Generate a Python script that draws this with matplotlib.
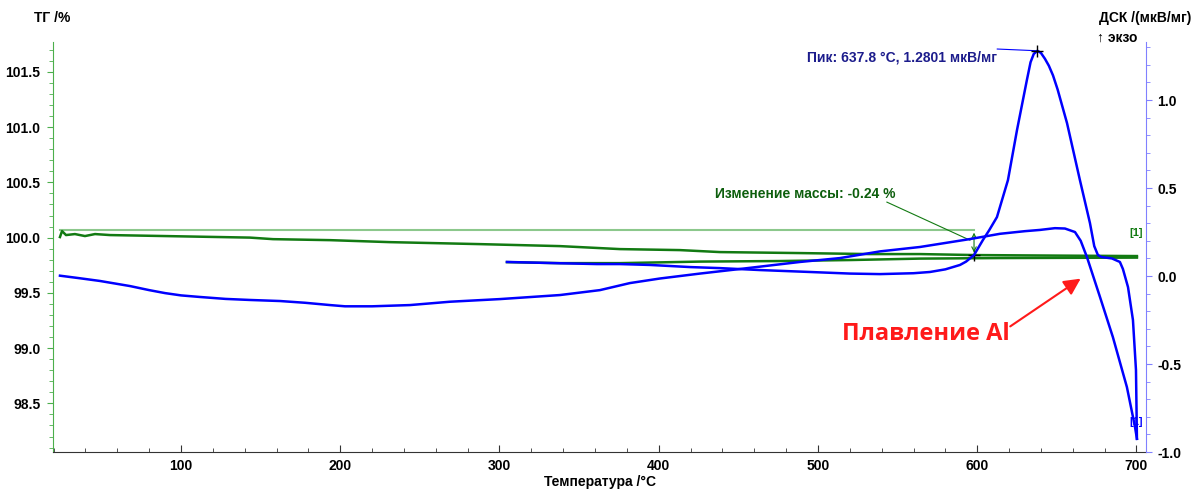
import matplotlib
matplotlib.use("Agg")
import matplotlib.pyplot as plt
from matplotlib.ticker import MultipleLocator, FormatStrFormatter

plt.rcParams['font.family'] = ['Liberation Sans', 'DejaVu Sans']
plt.rcParams['axes.unicode_minus'] = False

# ДСК, нагрев (T in C, DSC in мкВ/мг)
heat_t = [24.0, 36.0, 49.1, 68.0, 80.0, 90.0, 100.0, 111.9, 128.0, 143.3, 162.2, 178.0,
          193.6, 203.0, 220.0, 243.8, 268.9, 300.3, 338.0, 363.1, 381.9, 400.8, 425.9,
          451.0, 488.7, 513.8, 538.9, 564.0, 595.4, 614.3, 630.0, 639.4, 648.8, 655.1,
          661.4, 665.0, 668.9, 677.1, 685.2, 694.0, 699.1, 700.3]
heat_dsc = [0.002, -0.012, -0.028, -0.057, -0.080, -0.097, -0.110, -0.119, -0.130,
            -0.136, -0.142, -0.152, -0.165, -0.172, -0.172, -0.165, -0.146, -0.131,
            -0.108, -0.080, -0.040, -0.014, 0.014, 0.040, 0.080, 0.102, 0.140, 0.165,
            0.210, 0.240, 0.255, 0.262, 0.272, 0.270, 0.250, 0.200, 0.108, -0.119,
            -0.347, -0.631, -0.858, -0.925]

# ДСК, охлаждение (from 700 down)
cool_t = [700.3, 699.7, 697.8, 694.7, 691.5, 689.6, 684.6, 678.0, 675.8, 673.5, 670.8,
          664.5, 656.4, 650.5, 647.6, 645.0, 642.5, 640.0, 637.8, 635.5, 633.5, 631.2,
          625.0, 619.3, 612.4, 607.5, 603.6, 598.0, 593.0, 589.2, 580.0, 570.3, 560.0,
          538.9, 520.1, 495.0, 463.6, 438.5, 419.6, 394.5, 375.7, 361.2, 331.7, 304.7]
cool_dsc = [-0.925, -0.534, -0.25, -0.063, 0.040, 0.080, 0.100, 0.108, 0.119, 0.170,
            0.301, 0.545, 0.869, 1.060, 1.140, 1.195, 1.235, 1.268, 1.2801, 1.262,
            1.215, 1.114, 0.830, 0.545, 0.335, 0.260, 0.205, 0.119, 0.082, 0.063, 0.038,
            0.023, 0.016, 0.011, 0.014, 0.023, 0.034, 0.045, 0.051, 0.063, 0.068, 0.068,
            0.074, 0.080]

# ТГ, нагрев (%)
tg_heat_t = [24.0, 25.3, 27.8, 33.4, 39.7, 46.0, 55.4, 90.0, 143.3, 157.8, 193.6,
             231.2, 287.8, 338.0, 375.7, 413.3, 438.5, 488.7, 532.7, 564.0, 598.6,
             652.0, 700.3]
tg_heat = [100.005, 100.059, 100.023, 100.032, 100.014, 100.032, 100.023, 100.014,
           100.0, 99.986, 99.977, 99.959, 99.941, 99.923, 99.896, 99.887, 99.869,
           99.860, 99.851, 99.851, 99.842, 99.837, 99.833]

# ТГ, охлаждение (%)
tg_cool_t = [304.7, 338.0, 375.7, 425.9, 476.1, 520.1, 564.0, 614.3, 700.3]
tg_cool = [99.778, 99.769, 99.769, 99.783, 99.788, 99.797, 99.810, 99.815, 99.819]

peak_t, peak_dsc = 637.8, 1.2801
step_t = 598.0
step_top, step_bottom = 100.07, 99.84

blue = '#0000ff'
green = '#127a12'
light_green = '#8cc88c'

fig = plt.figure(figsize=(11.98, 4.94), dpi=100)
ax = fig.add_axes([0.0442, 0.085, 0.9124, 0.830])
ax2 = ax.twinx()

# TG curves
ax.plot([24.0, step_t], [step_top, step_top], color=light_green, lw=1.5)
ax.plot(tg_heat_t, tg_heat, color=green, lw=1.8)
ax.plot(tg_cool_t, tg_cool, color=green, lw=1.8)
ax.annotate('', xy=(step_t, step_bottom), xytext=(step_t, step_top),
            arrowprops=dict(arrowstyle='<->', color=green, lw=0.8, mutation_scale=8))
ax.plot([step_t], [step_bottom], marker='+', color='black', ms=8, mew=1)
ax.plot([543.3, 595.4], [100.321, 99.977], color=green, lw=0.8)
ax.text(435.3, 100.393, 'Изменение массы: -0.24 %', color='#0d5e0d', fontsize=10,
        fontweight='bold', ha='left', va='center')
ax.text(699.7, 100.04, '[1]', color=green, fontsize=8, fontweight='bold',
        ha='center', va='center')

# DSC curves
ax2.plot(heat_t, heat_dsc, color=blue, lw=1.8)
ax2.plot(cool_t, cool_dsc, color=blue, lw=1.8)
ax2.plot([612.6, peak_t], [1.29, peak_dsc], color=blue, lw=0.8)
ax2.plot([peak_t], [peak_dsc], marker='+', color='black', ms=8, mew=1)
ax2.text(612.4, 1.241, 'Пик: 637.8 °C, 1.2801 мкВ/мг', color='#1c1c8c', fontsize=10,
         fontweight='bold', ha='right', va='center')
ax2.text(699.7, -0.83, '[1]', color=blue, fontsize=8, fontweight='bold',
         ha='center', va='center')

# melting annotation
ax2.annotate('', xy=(666.4, -0.006), xytext=(619.3, -0.295),
             arrowprops=dict(arrowstyle='-|>', color='#ff1a1a', lw=1.5, mutation_scale=25))
ax2.text(567.8, -0.33, 'Плавление Al', color='#ff1a1a', fontsize=17,
         fontweight='bold', family=['Open Sans', 'DejaVu Sans'], ha='center', va='center')

# axes
ax.set_xlim(19.6, 706)
ax.set_ylim(98.06, 101.77)
ax2.set_ylim(-1.0, 1.33)

ax.xaxis.set_major_locator(MultipleLocator(100))
ax.xaxis.set_minor_locator(MultipleLocator(20))
ax.yaxis.set_major_locator(MultipleLocator(0.5))
ax.yaxis.set_minor_locator(MultipleLocator(0.1))
ax.yaxis.set_major_formatter(FormatStrFormatter('%.1f'))
ax2.yaxis.set_major_locator(MultipleLocator(0.5))
ax2.yaxis.set_minor_locator(MultipleLocator(0.1))
ax2.yaxis.set_major_formatter(FormatStrFormatter('%.1f'))

for a in (ax, ax2):
    a.spines['top'].set_visible(False)
ax.spines['right'].set_visible(False)
ax2.spines['left'].set_visible(False)
ax2.spines['bottom'].set_visible(False)
ax.spines['left'].set_color('#4caf4c')
ax.spines['bottom'].set_color('#333333')
ax2.spines['right'].set_color('#8080ff')

ax.tick_params(axis='x', which='both', direction='in', colors='#333333', labelcolor='black',
               labelsize=10, pad=5)
ax.tick_params(axis='x', which='major', length=5)
ax.tick_params(axis='x', which='minor', length=3)
ax.tick_params(axis='y', which='both', direction='out', colors='#4caf4c', labelcolor='black',
               labelsize=10, pad=5)
ax.tick_params(axis='y', which='major', length=4)
ax.tick_params(axis='y', which='minor', length=3)
ax2.tick_params(axis='y', which='both', direction='out', colors='#8080ff', labelcolor='black',
                labelsize=10, pad=4)
ax2.tick_params(axis='y', which='major', length=4)
ax2.tick_params(axis='y', which='minor', length=3)
for lab in ax.get_xticklabels() + ax.get_yticklabels() + ax2.get_yticklabels():
    lab.set_fontweight('bold')

fig.text(52 / 1198, 1 - 18 / 494, 'ТГ /%', fontsize=10, fontweight='bold', ha='center', va='center')
fig.text(1145 / 1198, 1 - 18 / 494, 'ДСК /(мкВ/мг)', fontsize=10, fontweight='bold',
         ha='center', va='center')
fig.text(1117 / 1198, 1 - 38 / 494, '↑ экзо', fontsize=10, fontweight='bold',
         ha='center', va='center')
fig.text(600 / 1198, 1 - 482 / 494, 'Температура /°C', fontsize=10, fontweight='bold',
         ha='center', va='center')

fig.savefig('out.png', dpi=100)
